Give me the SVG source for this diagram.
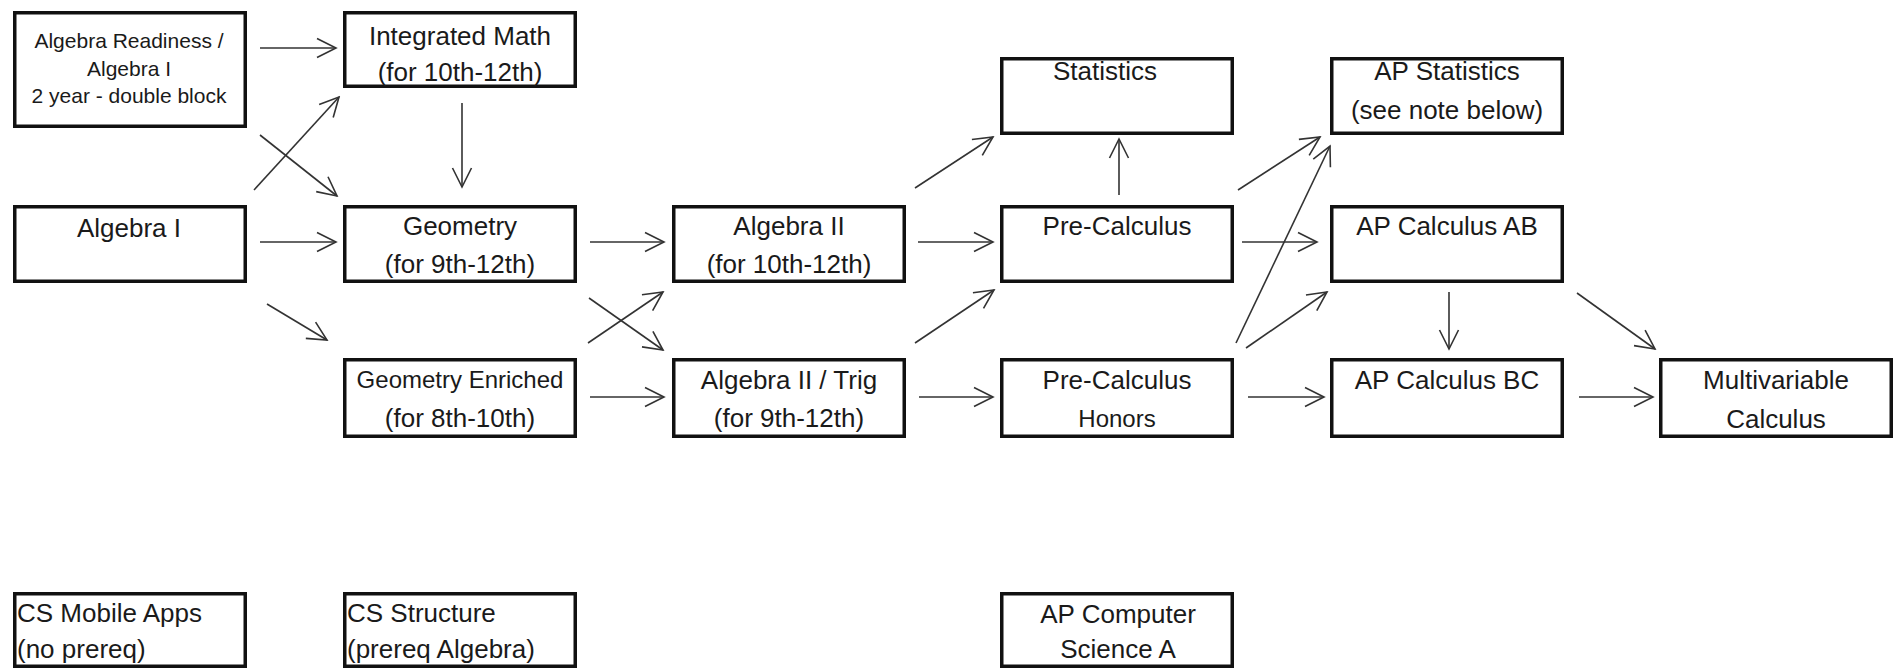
<svg xmlns="http://www.w3.org/2000/svg" width="1893" height="670" viewBox="0 0 1893 670">
<style>
.box{fill:#fff;stroke:#111;stroke-width:3.5}
.t{font-family:"Liberation Sans",Arial,sans-serif;font-size:26px;fill:#1a1a1a;text-anchor:middle}
.s{font-size:21px}
.m{font-size:24px}
.l{text-anchor:start}
.c{fill:none;stroke:#333;stroke-width:1.6}
</style>
<defs>
<marker id="ah" markerUnits="userSpaceOnUse" markerWidth="24" markerHeight="24" viewBox="-22 -12 24 24" refX="0" refY="0" orient="auto">
<path d="M-19,-9.5 L0,0 L-19,9.5" fill="none" stroke="#333" stroke-width="1.6"/>
</marker>
</defs>
<rect width="1893" height="670" fill="#fff"/>
<g id="connectors" class="c" marker-end="url(#ah)">
<line x1="260" y1="48" x2="336" y2="48"/>
<line x1="260" y1="135" x2="337" y2="196"/>
<line x1="254" y1="190" x2="339" y2="97"/>
<line x1="260" y1="242" x2="336" y2="242"/>
<line x1="462" y1="103" x2="462" y2="187"/>
<line x1="267" y1="304" x2="327" y2="340"/>
<line x1="590" y1="242" x2="664" y2="242"/>
<line x1="589" y1="298" x2="663" y2="350"/>
<line x1="588" y1="343" x2="663" y2="292"/>
<line x1="590" y1="397" x2="664" y2="397"/>
<line x1="915" y1="188" x2="993" y2="137"/>
<line x1="918" y1="242" x2="993" y2="242"/>
<line x1="915" y1="343" x2="994" y2="290"/>
<line x1="919" y1="397" x2="993" y2="397"/>
<line x1="1119" y1="195" x2="1119" y2="139"/>
<line x1="1238" y1="190" x2="1320" y2="137"/>
<line x1="1242" y1="242" x2="1317" y2="242"/>
<line x1="1236" y1="343" x2="1330" y2="146"/>
<line x1="1246" y1="348" x2="1327" y2="292"/>
<line x1="1248" y1="397" x2="1324" y2="397"/>
<line x1="1449" y1="292" x2="1449" y2="349"/>
<line x1="1577" y1="293" x2="1655" y2="349"/>
<line x1="1579" y1="397" x2="1653" y2="397"/>
</g>
<g id="alg-readiness"><rect class="box" x="14.75" y="12.75" width="230.5" height="113.5"/>
<text class="t s" x="129" y="48">Algebra Readiness /</text>
<text class="t s" x="129" y="76">Algebra I</text>
<text class="t s" x="129" y="103">2 year - double block</text></g>
<g id="integrated-math"><rect class="box" x="344.75" y="12.75" width="230.5" height="73.5"/>
<text class="t" x="460" y="45">Integrated Math</text>
<text class="t" x="460" y="81">(for 10th-12th)</text></g>
<g id="statistics"><rect class="box" x="1001.75" y="58.75" width="230.5" height="74.5"/>
<text class="t" x="1105" y="80">Statistics</text></g>
<g id="ap-statistics"><rect class="box" x="1331.75" y="58.75" width="230.5" height="74.5"/>
<text class="t" x="1447" y="80">AP Statistics</text>
<text class="t" x="1447" y="119">(see note below)</text></g>
<g id="algebra-1"><rect class="box" x="14.75" y="206.75" width="230.5" height="74.5"/>
<text class="t" x="129" y="237">Algebra I</text></g>
<g id="geometry"><rect class="box" x="344.75" y="206.75" width="230.5" height="74.5"/>
<text class="t" x="460" y="235">Geometry</text>
<text class="t" x="460" y="273">(for 9th-12th)</text></g>
<g id="algebra-2"><rect class="box" x="673.75" y="206.75" width="230.5" height="74.5"/>
<text class="t" x="789" y="235">Algebra II</text>
<text class="t" x="789" y="273">(for 10th-12th)</text></g>
<g id="pre-calculus"><rect class="box" x="1001.75" y="206.75" width="230.5" height="74.5"/>
<text class="t" x="1117" y="235">Pre-Calculus</text></g>
<g id="ap-calc-ab"><rect class="box" x="1331.75" y="206.75" width="230.5" height="74.5"/>
<text class="t" x="1447" y="235">AP Calculus AB</text></g>
<g id="geometry-enriched"><rect class="box" x="344.75" y="359.75" width="230.5" height="76.5"/>
<text class="t m" x="460" y="388">Geometry Enriched</text>
<text class="t" x="460" y="427">(for 8th-10th)</text></g>
<g id="algebra-2-trig"><rect class="box" x="673.75" y="359.75" width="230.5" height="76.5"/>
<text class="t" x="789" y="389">Algebra II / Trig</text>
<text class="t" x="789" y="427">(for 9th-12th)</text></g>
<g id="pre-calc-honors"><rect class="box" x="1001.75" y="359.75" width="230.5" height="76.5"/>
<text class="t" x="1117" y="389">Pre-Calculus</text>
<text class="t" x="1117" y="427" style="font-size:24px">Honors</text></g>
<g id="ap-calc-bc"><rect class="box" x="1331.75" y="359.75" width="230.5" height="76.5"/>
<text class="t" x="1447" y="389">AP Calculus BC</text></g>
<g id="multivariable"><rect class="box" x="1660.75" y="359.75" width="230.5" height="76.5"/>
<text class="t" x="1776" y="389">Multivariable</text>
<text class="t" x="1776" y="428">Calculus</text></g>
<g id="cs-mobile"><rect class="box" x="14.75" y="593.75" width="230.5" height="72.5"/>
<text class="t l" x="17" y="622">CS Mobile Apps</text>
<text class="t l" x="17" y="658">(no prereq)</text></g>
<g id="cs-structure"><rect class="box" x="344.75" y="593.75" width="230.5" height="72.5"/>
<text class="t l" x="347" y="622">CS Structure</text>
<text class="t l" x="347" y="658">(prereq Algebra)</text></g>
<g id="ap-cs-a"><rect class="box" x="1001.75" y="593.75" width="230.5" height="72.5"/>
<text class="t" x="1118" y="623">AP Computer</text>
<text class="t" x="1118" y="658">Science A</text></g>
</svg>
